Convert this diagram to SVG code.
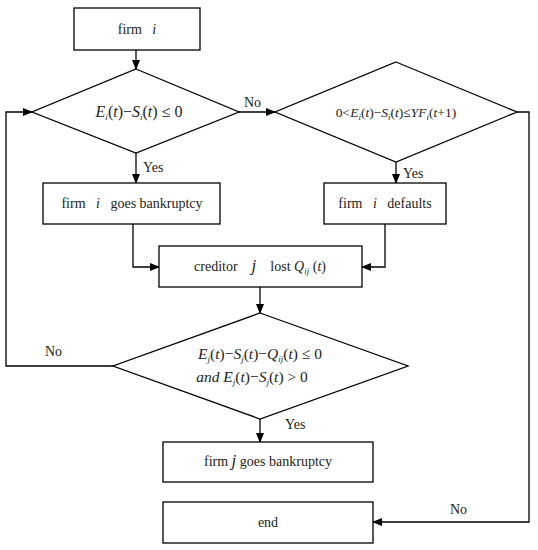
<svg xmlns="http://www.w3.org/2000/svg" width="538" height="550" viewBox="0 0 538 550">
<defs>
<marker id="ah" markerWidth="10" markerHeight="8" refX="9" refY="4" orient="auto" markerUnits="userSpaceOnUse">
<path d="M0,0 L10,4 L0,8 Z" fill="#000"/>
</marker>
<style>
.b{fill:#fff;stroke:#000;stroke-width:1.3}
.c{fill:none;stroke:#000;stroke-width:1.3;marker-end:url(#ah)}
.l{fill:none;stroke:#000;stroke-width:1.3}
text{font-family:"Liberation Serif","Times New Roman",serif;font-size:14px;fill:#222;white-space:pre}
.t{text-anchor:middle}
.m{font-style:italic}
.s{font-size:9px;font-style:italic}
</style>
</defs>
<rect width="538" height="550" fill="#fff"/>
<g id="connectors">
<line class="c" x1="136" y1="50" x2="136" y2="69"/>
<line class="c" x1="239" y1="112" x2="275" y2="112"/>
<line class="c" x1="136" y1="153" x2="136" y2="183"/>
<line class="c" x1="396" y1="162" x2="396" y2="183"/>
<polyline class="c" points="133,224 133,267 159,267"/>
<polyline class="c" points="385,224 385,267 362,267"/>
<line class="c" x1="260" y1="287" x2="260" y2="313"/>
<polyline class="c" points="113,366 6,366 6,112 32,112"/>
<line class="c" x1="260" y1="419" x2="260" y2="442"/>
<polyline class="c" points="517,112 529,112 529,522 373,522"/>
<text x="244" y="107">No</text>
<text x="143" y="172">Yes</text>
<text x="403" y="178">Yes</text>
<text x="45" y="356">No</text>
<text x="285" y="429">Yes</text>
<text x="450" y="514">No</text>
</g>
<g id="firm-i">
<rect class="b" x="74" y="8" width="126" height="42"/>
<text class="t" x="137" y="34" xml:space="preserve">firm   <tspan class="m">i</tspan></text>
</g>
<g id="decision1">
<polygon class="b" points="136,69 239,112 136,153 32,112"/>
<text class="t" x="139" y="117" style="font-size:16px"><tspan class="m">E</tspan><tspan class="s" dy="3">i</tspan><tspan dy="-3">(</tspan><tspan class="m">t</tspan>)−<tspan class="m">S</tspan><tspan class="s" dy="3">i</tspan><tspan dy="-3">(</tspan><tspan class="m">t</tspan>) ≤ 0</text>
</g>
<g id="decision2">
<polygon class="b" points="396,62 517,112 396,162 275,112"/>
<text class="t" x="396" y="117" style="font-size:13.5px">0&lt;<tspan class="m">E</tspan><tspan class="s" dy="3">i</tspan><tspan dy="-3">(</tspan><tspan class="m">t</tspan>)−<tspan class="m">S</tspan><tspan class="s" dy="3">i</tspan><tspan dy="-3">(</tspan><tspan class="m">t</tspan>)≤<tspan class="m">YF</tspan><tspan class="s" dy="3">i</tspan><tspan dy="-3">(</tspan><tspan class="m">t</tspan>+1)</text>
</g>
<g id="bankrupt-i">
<rect class="b" x="43" y="183" width="177" height="41"/>
<text class="t" x="132" y="208" xml:space="preserve">firm   <tspan class="m">i</tspan>   goes bankruptcy</text>
</g>
<g id="defaults-i">
<rect class="b" x="324" y="183" width="122" height="41"/>
<text class="t" x="385" y="208" xml:space="preserve">firm   <tspan class="m">i</tspan>   defaults</text>
</g>
<g id="creditor">
<rect class="b" x="159" y="246" width="203" height="41"/>
<text class="t" x="260" y="271" xml:space="preserve">creditor    <tspan class="m" style="font-size:17px">j</tspan>    lost <tspan class="m">Q</tspan><tspan class="s" dy="3">ij</tspan><tspan dy="-3"> (</tspan><tspan class="m">t</tspan>)</text>
</g>
<g id="decision3">
<polygon class="b" points="260,313 408,366 260,419 113,366"/>
<text class="t" x="260" y="359" style="font-size:15.5px"><tspan class="m">E</tspan><tspan class="s" dy="3">j</tspan><tspan dy="-3">(</tspan><tspan class="m">t</tspan>)−<tspan class="m">S</tspan><tspan class="s" dy="3">j</tspan><tspan dy="-3">(</tspan><tspan class="m">t</tspan>)−<tspan class="m">Q</tspan><tspan class="s" dy="3">ij</tspan><tspan dy="-3">(</tspan><tspan class="m">t</tspan>) ≤ 0</text>
<text class="t" x="252" y="382" style="font-size:15.5px"><tspan class="m">and E</tspan><tspan class="s" dy="3">j</tspan><tspan dy="-3">(</tspan><tspan class="m">t</tspan>)−<tspan class="m">S</tspan><tspan class="s" dy="3">j</tspan><tspan dy="-3">(</tspan><tspan class="m">t</tspan>) &gt; 0</text>
</g>
<g id="bankrupt-j">
<rect class="b" x="163" y="442" width="210" height="40"/>
<text class="t" x="268" y="466">firm <tspan class="m" style="font-size:17px">j</tspan> goes bankruptcy</text>
</g>
<g id="end">
<rect class="b" x="163" y="502" width="210" height="41"/>
<text class="t" x="268" y="527">end</text>
</g>
</svg>
